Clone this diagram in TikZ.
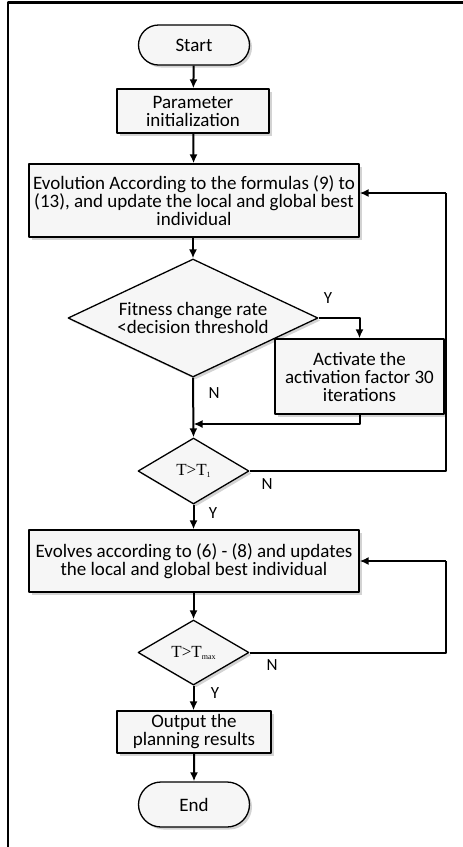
\documentclass[tikz,border=0pt]{standalone}
\usepackage{fontspec}
\setmainfont{Carlito}
\newfontfamily\timesfam{Liberation Serif}
\usetikzlibrary{shapes,arrows.meta,positioning,calc,shadows}

\tikzset{
  box/.style={draw, line width=1.3pt, fill=gray!7, align=center, inner sep=0pt,
    drop shadow={shadow xshift=2.5pt, shadow yshift=-2.5pt, opacity=0.35}},
  terminal/.style={box, rounded rectangle, minimum width=111pt, minimum height=40pt},
  process/.style={box, rectangle},
  decision/.style={box, diamond, aspect=2},
  flow/.style={line width=2pt, -{Latex[length=9pt,width=8pt]}},
  link/.style={line width=2pt},
  tag/.style={font=\fontsize{17}{20}\selectfont}
}
\newcommand{\thresh}[1]{{\timesfam\fontsize{17}{18}\selectfont T>T\raisebox{-0.25ex}{\fontsize{8}{8}\selectfont #1}}}

\begin{document}
\begin{tikzpicture}[x=1pt, y=-1pt, line join=round, font=\fontsize{19}{18}\selectfont]
\useasboundingbox (0,0) rectangle (463,847);
% frame (only left and top edges show)
\draw[line width=2.4pt] (8,847) -- (8,2.5) -- (463,2.5);

% nodes
\node[terminal] (start) at (194,45) {Start};
\node[process, minimum width=152pt, minimum height=44pt] (param) at (193,111) {Parameter\\initialization};
\node[process, minimum width=330pt, minimum height=73pt] (evo) at (194,200.5)
  {Evolution According to the formulas (9) to\\(13), and update the local and global best\\individual};
\node[decision, minimum width=250pt, minimum height=118pt] (fit) at (193,318)
  {Fitness change rate\\<decision threshold};
\node[process, minimum width=169pt, minimum height=75pt] (act) at (359.5,376.5)
  {Activate the\\activation factor 30\\iterations};
\node[decision, minimum width=111pt, minimum height=66pt] (t1) at (193.5,471) {\thresh{1}};
\node[process, minimum width=330pt, minimum height=62pt] (evo2) at (194,561)
  {Evolves according to (6) - (8) and updates\\the local and global best individual};
\node[decision, minimum width=111pt, minimum height=65pt] (tmax) at (193.5,652.5) {\thresh{max}};
\node[process, minimum width=154pt, minimum height=42pt] (out) at (194,732)
  {Output the\\planning results};
\node[terminal, minimum height=45pt] (end) at (194,804.5) {End};

\coordinate (merge) at (193.5,424);
\coordinate (back1) at (446,193);
\coordinate (back2) at (446,561);

% connectors
\draw[flow] (start) -- (param);
\draw[flow] (param) -- (evo);
\draw[flow] (evo.south -| fit.north) -- (fit.north);
\draw[flow] (fit.east) -| (act.north);
\draw[flow] (act.south) |- (merge);
\draw[flow] (fit.south) -- (t1.north);
\draw[link] (t1.east) -| (back1);
\draw[flow] (back1) -- (back1 -| evo.east);
\draw[flow] (t1.south) -- (t1.south |- evo2.north);
\draw[flow] (evo2.south -| tmax.north) -- (tmax.north);
\draw[link] (tmax.east) -| (back2);
\draw[flow] (back2) -- (evo2.east);
\draw[flow] (tmax.south) -- (tmax.south |- out.north);
\draw[flow] (out) -- (end);

% branch labels
\node[tag] (y1) at (328,298) {Y};
\node[tag] (n1) at (214,393) {N};
\node[tag] (n2) at (267,484) {N};
\node[tag] (y2) at (213,513) {Y};
\node[tag] (n3) at (272,665) {N};
\node[tag] (y3) at (215,693) {Y};
\end{tikzpicture}
\end{document}
